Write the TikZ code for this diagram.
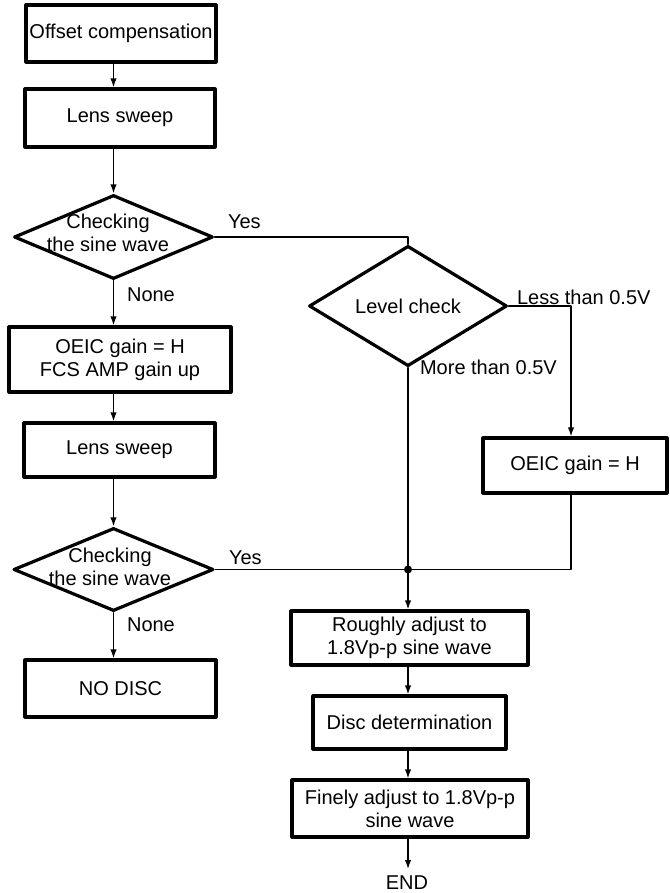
\documentclass[tikz,border=0pt]{standalone}
\usepackage{fontspec}
\setmainfont{Liberation Sans}
\usetikzlibrary{shapes.geometric,arrows.meta}
\begin{document}
\begin{tikzpicture}[
        x=0.5pt, y=-0.5pt,
        line cap=round,
        line join=round,
        every node/.style={font=\fontsize{10}{11.5}\selectfont},
        stepbox/.style={draw, line width=1.6pt, align=center, inner sep=0pt},
        decision/.style={draw, diamond, line width=1.6pt, inner sep=0pt},
        link/.style={line width=0.7pt},
        arr/.style={link, -{Latex[length=4.5pt,width=3.2pt]}}
    ]
        \useasboundingbox (0,0) rectangle (669,893);
        % Left column
        \node[stepbox, minimum width=95pt, minimum height=28.5pt] (off) at (121,33.5) {Offset compensation};
        \node[stepbox, minimum width=95pt, minimum height=29pt] (sweepA) at (120,118) {Lens sweep};
        \node[decision, minimum width=99.5pt, minimum height=42pt] (chkA) at (113.5,237) {};
        \node[align=center] (chkAtxt) at (108,233) {Checking\\the sine wave};
        \node[stepbox, minimum width=111pt, minimum height=32.5pt] (oeicA) at (120,359.5) {OEIC gain = H\\FCS AMP gain up};
        \node[stepbox, minimum width=95.5pt, minimum height=27pt] (sweepB) at (119.5,450) {Lens sweep};
        \node[decision, minimum width=100pt, minimum height=41.5pt] (chkB) at (113.5,569.5) {};
        \node[align=center] (chkBtxt) at (110,567) {Checking\\the sine wave};
        \node[stepbox, minimum width=95.5pt, minimum height=28.5pt] (nodisc) at (120.5,688.5) {NO DISC};
        % Right column
        \node[decision, minimum width=99pt, minimum height=43pt] (lvl) at (408,306) {Level check};
        \node[stepbox, minimum width=92pt, minimum height=27.5pt] (oeicB) at (575,465.5) {OEIC gain = H};
        \node[stepbox, minimum width=118.5pt, minimum height=27pt] (rough) at (409.5,638) {Roughly adjust to\\1.8Vp-p sine wave};
        \node[stepbox, minimum width=96.5pt, minimum height=26.5pt] (disc) at (409.5,722.5) {Disc determination};
        \node[stepbox, minimum width=118pt, minimum height=28.5pt] (fine) at (410,808.5) {Finely adjust to 1.8Vp-p\\sine wave};
        \node (end) at (407,883) {END};
        % Helper points
        \coordinate (rt) at (571,306);
        \coordinate (jn) at (lvl.south |- chkB.east);
        % Main flow, left
        \draw[arr] (off.south -| chkA) -- (sweepA.north -| chkA);
        \draw[arr] (sweepA.south -| chkA) -- (chkA.north);
        \draw[arr] (chkA.south) -- (oeicA.north -| chkA);
        \draw[arr] (oeicA.south -| chkA) -- (sweepB.north -| chkA);
        \draw[arr] (sweepB.south -| chkA) -- (chkB.north);
        \draw[arr] (chkB.south) -- (nodisc.north -| chkB);
        % Branches
        \draw[link] (chkA.east) -| (lvl.north);
        \draw[arr] (lvl.east) -| (rt |- oeicB.north);
        \draw[link] (lvl.south) -- (jn);
        \draw[link] (chkB.east) -- (jn);
        \draw[link] (rt |- oeicB.south) |- (jn);
        \fill (jn) circle (2pt);
        % Main flow, right
        \draw[arr] (jn) -- (rough.north -| jn);
        \draw[arr] (rough.south -| jn) -- (disc.north -| jn);
        \draw[arr] (disc.south -| jn) -- (fine.north -| jn);
        \draw[arr] (fine.south -| jn) -- (end.north -| jn);
        % Labels
        \node[anchor=west] (yesA) at (221,222) {Yes};
        \node[anchor=west] (noneA) at (120,295) {None};
        \node[anchor=west] (less) at (510,297) {Less than 0.5V};
        \node[anchor=west] (more) at (413,367) {More than 0.5V};
        \node[anchor=west] (yesB) at (222,558) {Yes};
        \node[anchor=west] (noneB) at (120,625) {None};
    \end{tikzpicture}
\end{document}
